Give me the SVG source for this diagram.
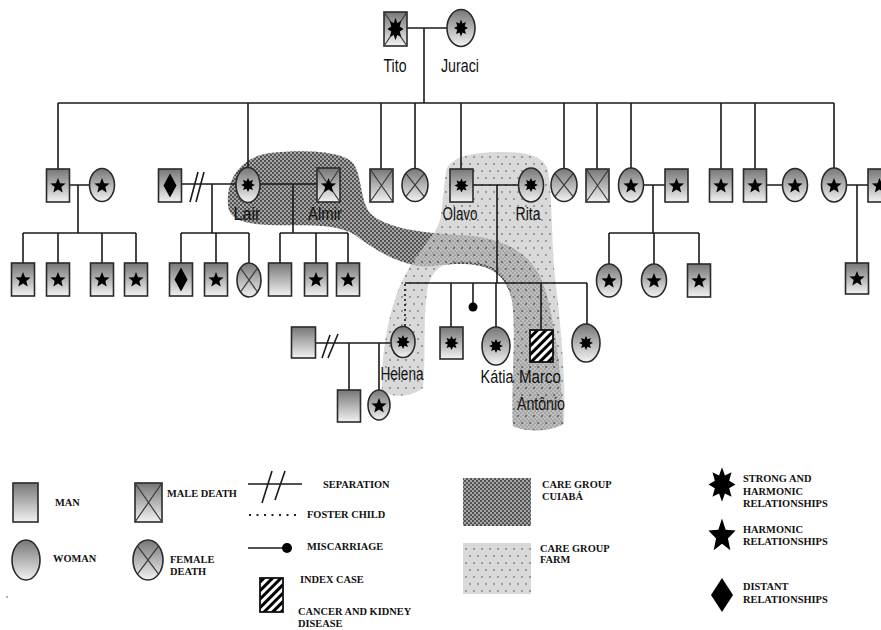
<svg xmlns="http://www.w3.org/2000/svg" xmlns:xlink="http://www.w3.org/1999/xlink" width="881" height="630" viewBox="0 0 881 630">
<defs>
<linearGradient id="gr" x1="0" y1="0" x2="0" y2="1">
<stop offset="0" stop-color="#767676"/>
<stop offset="1" stop-color="#f2f2f2"/>
</linearGradient>
<pattern id="pd" width="4" height="4" patternUnits="userSpaceOnUse"><rect width="4" height="4" fill="#a6a6a6"/><circle cx="1" cy="1" r="1.1" fill="#484848"/><circle cx="3" cy="3" r="1.1" fill="#484848"/></pattern>
<pattern id="pl" width="8" height="14" patternUnits="userSpaceOnUse"><rect width="8" height="14" fill="#c9c9c9"/><circle cx="2" cy="3" r="0.9" fill="#444"/><circle cx="6" cy="10" r="0.9" fill="#444"/></pattern>
<pattern id="ph" width="6" height="6" patternUnits="userSpaceOnUse" patternTransform="rotate(45)"><rect width="6" height="6" fill="#fff"/><rect width="3" height="6" fill="#000"/></pattern>
<path id="s5" d="M0,-8 L2.06,-2.83 L7.61,-2.47 L3.33,1.08 L4.70,6.47 L0,3.5 L-4.70,6.47 L-3.33,1.08 L-7.61,-2.47 L-2.06,-2.83 Z"/>
<path id="s8" d="M0,-7 L1.53,-3.7 L4.95,-4.95 L3.7,-1.53 L7,0 L3.7,1.53 L4.95,4.95 L1.53,3.7 L0,7 L-1.53,3.7 L-4.95,4.95 L-3.7,1.53 L-7,0 L-3.7,-1.53 L-4.95,-4.95 L-1.53,-3.7 Z"/>
<path id="dm" d="M0,-12 L6.5,0 L0,12 L-6.5,0 Z"/>
</defs>
<style>
.ln{stroke:#1a1a1a;stroke-width:1.6;fill:none}
.dot{stroke:#1a1a1a;stroke-width:1.6;fill:none;stroke-dasharray:2 3}
.nd{stroke:#2a2a2a;stroke-width:1.6;fill:url(#gr)}
.x{stroke:#3a3a3a;stroke-width:1.2}
.sym{fill:#000}
.lbl{font-family:'Liberation Sans',Arial,sans-serif;font-size:17.5px;fill:#111;text-anchor:middle}
.lg{font-family:'Liberation Serif','Times New Roman',serif;font-weight:bold;font-size:10.4px;fill:#111}
</style>
<rect width="881" height="630" fill="#fff"/>

<g id="care-groups">
<path id="care-cuiaba" fill="url(#pd)" d="M228,205 C226,180 240,157 270,153 C300,150 340,150 353,163 C362,175 360,200 370,213 C385,228 420,233 460,235 C500,237 528,250 542,280 C556,320 562,380 563,424 C550,432 525,432 513,426 C511,390 517,330 512,300 C505,272 488,264 460,264 C440,264 430,268 418,266 C395,262 375,250 355,235 C335,222 300,226 270,225 C245,224 229,220 228,205 Z"/>
<path id="care-farm" fill="url(#pl)" opacity="0.7" d="M446,172 C448,158 470,152 500,152 C525,152 543,155 548,170 C553,200 551,250 556,285 C561,330 566,380 564,424 C550,432 525,432 513,426 C511,390 516,330 512,300 C508,270 490,262 462,262 C440,262 430,272 427,292 C423,320 426,360 423,388 C410,398 390,398 382,390 C381,350 390,300 408,270 C422,245 438,235 441,215 C443,200 444,185 446,172 Z"/>
</g>

<g id="connectors">
<path class="ln" d="M407,28 H447 M424,28 V103 M58,103 H834"/>
<path class="ln" d="M58,103 V169 M248,103 V168 M381,103 V169 M415,103 V168.5 M461,103 V169 M564,103 V168.5 M597,103 V169 M631,103 V168 M721,103 V169 M755,103 V169 M834,103 V168"/>
<path class="ln" d="M69,185 H89.5 M78,185 V233 M23,233 H136 M23,233 V263 M58,233 V263 M102,233 V263 M136,233 V263"/>
<path class="ln" d="M181,184 H236 M190,202 L198,172 M196,202 L204,172 M212,184 V233 M181,233 H249 M181,233 V263 M216,233 V263 M249,233 V263"/>
<path class="ln" d="M260,184 H317 M293,184 V233 M280,233 H348 M280,233 V263 M316,233 V263 M348,233 V263"/>
<path class="ln" d="M473,185 H518.5 M497,185 V283 M405,283 H587 M451,283 V327 M473,283 V303 M496,283 V327 M541,283 V330 M587,283 V324"/>
<circle cx="473" cy="307" r="4.5" fill="#000"/>
<path class="dot" d="M405,284 V326"/>
<path class="ln" d="M643.5,185 H665 M653,185 V233 M609,233 H699 M609,233 V264 M654,233 V264 M699,233 V264"/>
<path class="ln" d="M766,185 H782.5 M846.5,185 H868 M857,185 V263"/>
<path class="ln" d="M315,343 H391 M322,358 L330,335 M328,358 L338,334 M349,343 V390 M379,343 V390"/>
</g>

<g id="tito"><rect class="nd" x="384" y="12" width="23" height="34"/><path class="x" d="M384,12 L407,46 M407,12 L384,46"/><use href="#s8" class="sym" transform="translate(395.5,29) scale(1.15,1.6)"/></g>
<g id="juraci"><ellipse class="nd" cx="461" cy="28" rx="14" ry="18.5"/><use href="#s8" class="sym" transform="translate(461,28) scale(1,1.2)"/></g>

<g id="g2-1"><rect class="nd" x="46.5" y="169" width="23" height="33"/><use href="#s5" class="sym" x="58" y="186"/></g>
<g id="g2-2"><ellipse class="nd" cx="102" cy="185" rx="12.5" ry="16.5"/><use href="#s5" class="sym" x="102" y="186"/></g>
<g id="g2-3"><rect class="nd" x="158.5" y="169" width="23" height="33"/><use href="#dm" class="sym" x="170" y="185.5"/></g>
<g id="lair"><ellipse class="nd" cx="248" cy="185" rx="12" ry="17.5"/><use href="#s8" class="sym" x="248" y="185"/></g>
<g id="almir"><rect class="nd" x="317" y="168" width="23" height="34"/><path class="x" d="M317,168 L340,202 M340,168 L317,202"/><use href="#s5" class="sym" x="328.5" y="186"/></g>
<g id="g2-6"><rect class="nd" x="370" y="169" width="23" height="33"/><path class="x" d="M370,169 L393,202 M393,169 L370,202"/></g>
<g id="g2-7"><ellipse class="nd" cx="415" cy="185" rx="13" ry="16.5"/><path class="x" d="M405.8,173.3 L424.2,196.7 M424.2,173.3 L405.8,196.7"/></g>
<g id="olavo"><rect class="nd" x="450" y="169" width="23" height="33"/><use href="#s8" class="sym" x="461.5" y="185.5"/></g>
<g id="rita"><ellipse class="nd" cx="531" cy="185" rx="12.5" ry="17"/><use href="#s8" class="sym" x="531" y="185"/></g>
<g id="g2-10"><ellipse class="nd" cx="564" cy="185" rx="13" ry="16.5"/><path class="x" d="M554.8,173.3 L573.2,196.7 M573.2,173.3 L554.8,196.7"/></g>
<g id="g2-11"><rect class="nd" x="586" y="169" width="23" height="33"/><path class="x" d="M586,169 L609,202 M609,169 L586,202"/></g>
<g id="g2-12"><ellipse class="nd" cx="631" cy="185" rx="12.5" ry="17"/><use href="#s5" class="sym" x="631" y="186"/></g>
<g id="g2-13"><rect class="nd" x="665" y="169" width="23" height="33"/><use href="#s5" class="sym" x="676.5" y="186"/></g>
<g id="g2-14"><rect class="nd" x="709.5" y="169" width="23" height="33"/><use href="#s5" class="sym" x="721" y="186"/></g>
<g id="g2-15"><rect class="nd" x="743.5" y="169" width="23" height="33"/><use href="#s5" class="sym" x="755" y="186"/></g>
<g id="g2-16"><ellipse class="nd" cx="795" cy="185" rx="12.5" ry="16.5"/><use href="#s5" class="sym" x="795" y="186"/></g>
<g id="g2-17"><ellipse class="nd" cx="834" cy="185" rx="12.5" ry="17"/><use href="#s5" class="sym" x="834" y="186"/></g>
<g id="g2-18"><rect class="nd" x="868" y="169" width="23" height="33"/><use href="#s5" class="sym" x="879.5" y="186"/></g>

<g id="g3-1"><rect class="nd" x="11.5" y="263" width="23" height="33"/><use href="#s5" class="sym" x="23" y="280"/></g>
<g id="g3-2"><rect class="nd" x="46.5" y="263" width="23" height="33"/><use href="#s5" class="sym" x="58" y="280"/></g>
<g id="g3-3"><rect class="nd" x="90.5" y="263" width="23" height="33"/><use href="#s5" class="sym" x="102" y="280"/></g>
<g id="g3-4"><rect class="nd" x="124.5" y="263" width="23" height="33"/><use href="#s5" class="sym" x="136" y="280"/></g>
<g id="g3-5"><rect class="nd" x="169.5" y="263" width="23" height="33"/><use href="#dm" class="sym" x="181" y="279.5"/></g>
<g id="g3-6"><rect class="nd" x="204.5" y="263" width="23" height="33"/><use href="#s5" class="sym" x="216" y="280"/></g>
<g id="g3-7"><ellipse class="nd" cx="249" cy="280" rx="12" ry="17"/><path class="x" d="M240.5,268 L257.5,292 M257.5,268 L240.5,292"/></g>
<g id="g3-8"><rect class="nd" x="268.5" y="263" width="23" height="33"/></g>
<g id="g3-9"><rect class="nd" x="304.5" y="263" width="23" height="33"/><use href="#s5" class="sym" x="316" y="280"/></g>
<g id="g3-10"><rect class="nd" x="336.5" y="263" width="23" height="33"/><use href="#s5" class="sym" x="348" y="280"/></g>
<g id="g3-11"><ellipse class="nd" cx="609" cy="280.5" rx="12.5" ry="16.5"/><use href="#s5" class="sym" x="609" y="281"/></g>
<g id="g3-12"><ellipse class="nd" cx="654" cy="280.5" rx="12.5" ry="16.5"/><use href="#s5" class="sym" x="654" y="281"/></g>
<g id="g3-13"><rect class="nd" x="687.5" y="264" width="23" height="33"/><use href="#s5" class="sym" x="699" y="281"/></g>
<g id="g3-14"><rect class="nd" x="845.5" y="263" width="23" height="31"/><use href="#s5" class="sym" x="857" y="279"/></g>

<g id="helena-husband"><rect class="nd" x="291.5" y="327" width="24" height="31"/></g>
<g id="helena"><ellipse class="nd" cx="403" cy="342" rx="12" ry="15.5"/><use href="#s8" class="sym" x="403" y="342"/></g>
<g id="g3-16"><rect class="nd" x="440" y="327" width="23" height="32"/><use href="#s8" class="sym" x="451.5" y="343"/></g>
<g id="katia"><ellipse class="nd" cx="496" cy="346" rx="14" ry="19"/><use href="#s8" class="sym" x="496" y="346"/></g>
<g id="marco-antonio"><rect x="530" y="330" width="23" height="32" fill="url(#ph)" stroke="#111" stroke-width="1.8"/></g>
<g id="g3-19"><ellipse class="nd" cx="586" cy="343" rx="14" ry="19"/><use href="#s8" class="sym" x="586" y="343"/></g>
<g id="g4-1"><rect class="nd" x="337.5" y="390" width="23" height="32"/></g>
<g id="g4-2"><ellipse class="nd" cx="379" cy="405" rx="11" ry="15"/><use href="#s5" class="sym" x="379" y="406"/></g>

<g id="labels">
<text class="lbl" x="395" y="72" textLength="23" lengthAdjust="spacingAndGlyphs">Tito</text>
<text class="lbl" x="460" y="72" textLength="38" lengthAdjust="spacingAndGlyphs">Juraci</text>
<text class="lbl" x="247" y="220" textLength="27" lengthAdjust="spacingAndGlyphs">Lair</text>
<text class="lbl" x="325" y="220" textLength="34" lengthAdjust="spacingAndGlyphs">Almir</text>
<text class="lbl" x="460" y="220" textLength="35" lengthAdjust="spacingAndGlyphs">Olavo</text>
<text class="lbl" x="528" y="220" textLength="25" lengthAdjust="spacingAndGlyphs">Rita</text>
<text class="lbl" x="402" y="380" textLength="43" lengthAdjust="spacingAndGlyphs">Helena</text>
<text class="lbl" x="497" y="383" textLength="33" lengthAdjust="spacingAndGlyphs">Kátia</text>
<text class="lbl" x="540" y="383" textLength="42" lengthAdjust="spacingAndGlyphs">Marco</text>
<text class="lbl" x="541" y="410" textLength="48" lengthAdjust="spacingAndGlyphs">Antônio</text>
</g>

<g id="legend">
<rect class="nd" x="13" y="483" width="25" height="39"/>
<text class="lg" x="55" y="506">MAN</text>
<ellipse class="nd" cx="26" cy="560" rx="14" ry="20"/>
<text class="lg" x="53" y="562">WOMAN</text>
<circle cx="7" cy="597" r="0.8" fill="#555"/>
<rect class="nd" x="135" y="483" width="27" height="39"/>
<path class="x" d="M135,483 L162,522 M162,483 L135,522"/>
<text class="lg" x="167" y="497">MALE DEATH</text>
<ellipse class="nd" cx="148" cy="560" rx="15" ry="20"/>
<path class="x" d="M137.4,545.9 L158.6,574.1 M158.6,545.9 L137.4,574.1"/>
<text class="lg" x="170" y="563">FEMALE</text>
<text class="lg" x="170" y="575">DEATH</text>
<path class="ln" d="M248,484 H302 M262,503 L272,471 M275,500 L285,471"/>
<text class="lg" x="323" y="488">SEPARATION</text>
<path d="M249,515 H298" stroke="#222" stroke-width="2" stroke-dasharray="2 5.5"/>
<text class="lg" x="307" y="518">FOSTER CHILD</text>
<path class="ln" d="M248,548 H287"/>
<circle cx="287" cy="548" r="5" fill="#000"/>
<text class="lg" x="307" y="550">MISCARRIAGE</text>
<rect x="260" y="578" width="23" height="34" fill="url(#ph)" stroke="#111" stroke-width="1.8"/>
<text class="lg" x="300" y="583">INDEX CASE</text>
<text class="lg" x="298" y="615">CANCER AND KIDNEY</text>
<text class="lg" x="298" y="627">DISEASE</text>
<rect x="463" y="478" width="68" height="48" fill="url(#pd)"/>
<text class="lg" x="542" y="488">CARE GROUP</text>
<text class="lg" x="542" y="500">CUIABÁ</text>
<rect x="463" y="543" width="68" height="51" fill="url(#pl)" opacity="0.7"/>
<text class="lg" x="540" y="552">CARE GROUP</text>
<text class="lg" x="540" y="563">FARM</text>
<use href="#s8" class="sym" transform="translate(722,484.5) scale(1.93,2.45)"/>
<text class="lg" x="743" y="482">STRONG AND</text>
<text class="lg" x="743" y="495">HARMONIC</text>
<text class="lg" x="743" y="507">RELATIONSHIPS</text>
<use href="#s5" class="sym" transform="translate(722,536) scale(1.78,2.2)"/>
<text class="lg" x="743" y="533">HARMONIC</text>
<text class="lg" x="743" y="545">RELATIONSHIPS</text>
<path class="sym" d="M722,578 L733,595 L722,612 L711,595 Z"/>
<text class="lg" x="743" y="590">DISTANT</text>
<text class="lg" x="743" y="603">RELATIONSHIPS</text>
</g>
</svg>
